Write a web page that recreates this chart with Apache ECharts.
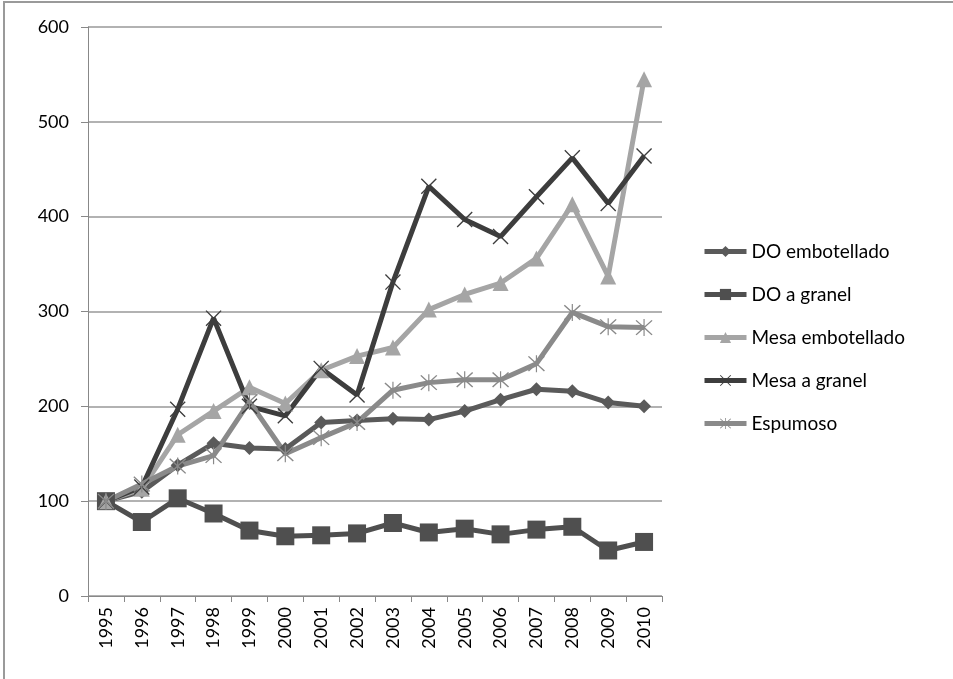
<!DOCTYPE html>
<html>
<head>
    <meta charset="utf-8">
    <script src="https://cdn.jsdelivr.net/npm/echarts@6/dist/echarts.min.js"></script>
    <style>
        html, body { margin: 0; padding: 0; background: #fff; }
        /* thin grey frame on the left and top like the original scan */
        #frame {
            position: absolute; left: 3px; top: 1px;
            width: 950px; height: 678px;
            border-left: 2px solid #9a9a9a;
            border-top: 2px solid #9a9a9a;
        }
        #container { position: absolute; left: 0; top: 0; width: 953px; height: 679px; }
    </style>
</head>
<body>
<div id="frame"></div>
<div id="container"></div>
<script>
    var years = ['1995', '1996', '1997', '1998', '1999', '2000', '2001', '2002',
        '2003', '2004', '2005', '2006', '2007', '2008', '2009', '2010'];
    var doEmbotellado = [100, 110, 138, 161, 156, 155, 183, 185, 187, 186, 195, 207, 218, 216, 204, 200];
    var doGranel = [100, 78, 103, 87, 69, 63, 64, 66, 77, 67, 71, 65, 70, 73, 48, 57];
    var mesaEmbotellado = [100, 113, 170, 195, 220, 203, 238, 253, 262, 302, 318, 330, 356, 413, 337, 545];
    var mesaGranel = [100, 115, 197, 293, 200, 190, 240, 212, 331, 432, 397, 379, 421, 462, 414, 464];
    var espumoso = [100, 118, 137, 148, 205, 150, 167, 183, 217, 225, 228, 228, 245, 299, 284, 283];

    var crossPath = 'path://M0,1.2L1.2,0L10,8.8L18.8,0L20,1.2L11.2,10L20,18.8L18.8,20L10,11.2L1.2,20L0,18.8L8.8,10Z';
    var starPath = 'path://M0,1.2L1.2,0L10,8.8L18.8,0L20,1.2L11.2,10L20,18.8L18.8,20L10,11.2L1.2,20L0,18.8L8.8,10Z'
        + 'M9.3,-1L10.7,-1L10.7,21L9.3,21Z';

    function line(name, data, color, symbol, size) {
        return {
            name: name,
            type: 'line',
            data: data,
            symbol: symbol,
            symbolSize: size,
            showAllSymbol: true,
            lineStyle: { color: color, width: 5 },
            itemStyle: { color: color },
            emphasis: { disabled: true },
            animation: false
        };
    }

    var chart = echarts.init(document.getElementById('container'));
    var font = 'Lato, "Open Sans", sans-serif';
    chart.setOption({
        backgroundColor: 'transparent',
        grid: { left: 88, right: 291, top: 27, bottom: 83 },
        legend: {
            orient: 'vertical',
            left: 697,
            top: 237,
            itemGap: 24,
            itemWidth: 42,
            itemHeight: 14,
            lineStyle: { width: 5 },
            textStyle: { fontFamily: font, fontSize: 19, color: '#000' },
            data: ['DO embotellado', 'DO a granel', 'Mesa embotellado', 'Mesa a granel', 'Espumoso']
        },
        xAxis: {
            type: 'category',
            data: years,
            boundaryGap: true,
            axisLine: { lineStyle: { color: '#888', width: 1 } },
            axisTick: { show: true, length: 6, lineStyle: { color: '#888' } },
            axisLabel: { rotate: 90, fontFamily: font, fontSize: 18, color: '#000', margin: 11 }
        },
        yAxis: {
            type: 'value',
            min: 0,
            max: 600,
            interval: 100,
            axisLine: { show: true, lineStyle: { color: '#888', width: 1 } },
            axisTick: { show: true, length: 7, lineStyle: { color: '#888' } },
            axisLabel: { fontFamily: font, fontSize: 18, color: '#000', margin: 19 },
            splitLine: { lineStyle: { color: '#999', width: 1.5 } }
        },
        series: [
            line('DO embotellado', doEmbotellado, '#5a5a5a', 'diamond', 14),
            line('DO a granel', doGranel, '#4f4f4f', 'rect', 18),
            line('Mesa embotellado', mesaEmbotellado, '#a5a5a5', 'triangle', 16),
            line('Mesa a granel', mesaGranel, '#3d3d3d', crossPath, 16),
            line('Espumoso', espumoso, '#8a8a8a', starPath, 17)
        ]
    });
</script>
</body>
</html>
